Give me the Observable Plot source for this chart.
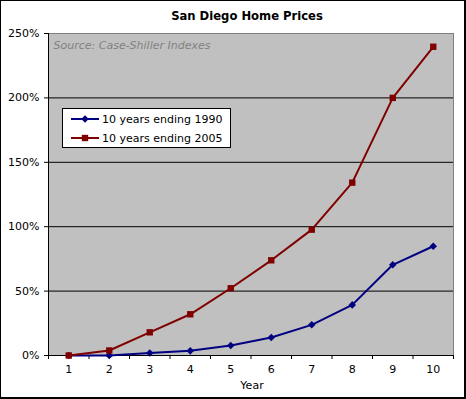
<!DOCTYPE html>
<html><head><meta charset="utf-8">
<script src="https://cdn.jsdelivr.net/npm/d3@7"></script>
<script src="https://cdn.jsdelivr.net/npm/@observablehq/plot@0.6"></script>
<style>
body{margin:0;background:#fff;}
#wrap{position:relative;width:466px;height:399px;overflow:hidden;font-family:"DejaVu Sans",Verdana,sans-serif;}
#wrap svg{position:absolute;left:0;top:0;}
#border{position:absolute;left:0;top:0;width:466px;height:399px;box-sizing:border-box;border:1px solid #000;border-right-width:2px;border-bottom-width:2px;pointer-events:none;}
#legend{position:absolute;left:62px;top:108px;width:169px;height:40px;box-sizing:border-box;border:1px solid #000;background:#fff;font-size:11px;color:#000;}
#legend .row{position:absolute;left:8px;height:14px;display:flex;align-items:center;white-space:nowrap;}
#legend svg{position:static;margin-right:2px;}
</style></head><body><div id="wrap"></div>
<script>
const years = [1,2,3,4,5,6,7,8,9,10];
const series1990 = [0,0,2,3.6,7.8,14,23.8,39.3,70.4,84.8];
const series2005 = [0,3.9,18,32,52.2,73.9,97.7,134.2,200,239.7];
const seriesNames = ["10 years ending 1990","10 years ending 2005"];
const seriesColors = ["#000080","#800000"];
const seriesSymbols = ["diamond2","square"];
const yTicks = [0,50,100,150,200,250];
const title = "San Diego Home Prices";
const sourceNote = "Source: Case-Shiller Indexes";
const xLabel = "Year";

const rows = [];
years.forEach((yr,i)=>{
  rows.push({year:yr, value:series1990[i], series:seriesNames[0]});
  rows.push({year:yr, value:series2005[i], series:seriesNames[1]});
});
const boundaries = d3.range(years.length+1).map(i=>years[0]-0.5+i);
const xDomain = [boundaries[0], boundaries[boundaries.length-1]];

const chart = Plot.plot({
  width:466, height:399,
  marginLeft:48, marginRight:13, marginTop:33, marginBottom:44,
  style:{fontFamily:'"DejaVu Sans", Verdana, sans-serif', fontSize:"11px", color:"#000", background:"transparent", overflow:"visible"},
  x:{domain:xDomain},
  y:{domain:[yTicks[0], yTicks[yTicks.length-1]]},
  color:{domain:seriesNames, range:seriesColors},
  marks:[
    Plot.frame({fill:"#c0c0c0", stroke:null}),
    Plot.ruleY(yTicks.slice(1,-1), {stroke:"#000", strokeWidth:1}),
    Plot.ruleY([yTicks[yTicks.length-1]], {stroke:"#808080"}),
    Plot.ruleX([xDomain[1]], {stroke:"#808080"}),
    Plot.ruleX([xDomain[0]], {stroke:"#000"}),
    Plot.ruleY([yTicks[0]], {stroke:"#000"}),
    Plot.axisY({ticks:yTicks, tickFormat:d=>d+"%", tickSize:4, tickPadding:5, label:null}),
    Plot.axisX({ticks:boundaries, tickFormat:()=>"", tickSize:4, label:null}),
    Plot.axisX({ticks:years, tickFormat:d=>String(d), tickSize:0, tickPadding:10, label:null}),
    Plot.line(rows, {x:"year", y:"value", z:"series", stroke:"series", strokeWidth:2}),
    Plot.dot(rows.filter(d=>d.series===seriesNames[0]), {x:"year", y:"value", symbol:()=>seriesSymbols[0], fill:"series", stroke:null, r:3.4}),
    Plot.dot(rows.filter(d=>d.series===seriesNames[1]), {x:"year", y:"value", symbol:()=>seriesSymbols[1], fill:"series", stroke:null, r:3.6}),
    Plot.text([title], {frameAnchor:"top", lineAnchor:"middle", dx:-4, dy:-17, fontWeight:"bold", fontSize:11.6, fill:"#000"}),
    Plot.text([sourceNote], {frameAnchor:"top-left", textAnchor:"start", lineAnchor:"middle", dx:5, dy:11.5, fontStyle:"italic", fill:"#808080"}),
    Plot.text([xLabel], {frameAnchor:"bottom", lineAnchor:"middle", dx:1, dy:29.5, fill:"#000"})
  ]
});
const wrap = document.getElementById("wrap");
wrap.appendChild(chart);

// legend
const legend = document.createElement("div");
legend.id = "legend";
seriesNames.forEach((name,i)=>{
  const row = document.createElement("div");
  row.className = "row";
  row.style.top = (i===0 ? 3 : 22) + "px";
  const sw = d3.create("svg").attr("width",29).attr("height",14);
  sw.append("line").attr("x1",0).attr("x2",28).attr("y1",7).attr("y2",7).attr("stroke",seriesColors[i]).attr("stroke-width",2);
  const sym = i===0 ? d3.symbolDiamond2 : d3.symbolSquare;
  sw.append("path").attr("d", d3.symbol(sym, i===0 ? Math.PI*11.5 : Math.PI*13)()).attr("transform","translate(14,7)").attr("fill",seriesColors[i]);
  row.appendChild(sw.node());
  const t = document.createElement("span");
  t.textContent = name;
  row.appendChild(t);
  legend.appendChild(row);
});
wrap.appendChild(legend);
const border = document.createElement("div");
border.id = "border";
wrap.appendChild(border);
</script>
</body></html>
